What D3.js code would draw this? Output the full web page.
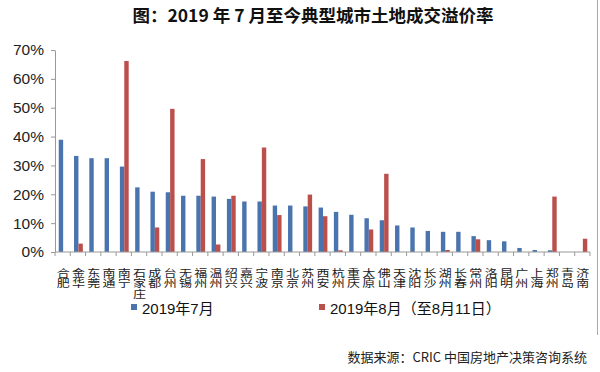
<!DOCTYPE html>
<html><head><meta charset="utf-8">
<script src="https://cdn.jsdelivr.net/npm/d3@7"></script>
<style>
html,body{margin:0;padding:0;background:#fff;}
svg{display:block;}
</style>
</head><body>
<svg id="chart" width="600" height="372"></svg>
<script>
const cities = ["合肥","金华","东莞","南通","南宁","石家庄","成都","台州","无锡","福州","温州","绍兴","嘉兴","宁波","南京","北京","苏州","西安","杭州","重庆","太原","佛山","天津","沈阳","长沙","湖州","长春","常州","洛阳","昆明","广州","上海","郑州","青岛","济南"];
const july = [38.9,33.3,32.5,32.5,29.6,22.4,20.9,20.7,19.5,19.5,19.2,18.4,17.5,17.5,16.1,16.1,15.8,15.4,13.9,12.9,11.7,11.0,9.2,8.5,7.3,7.0,7.0,5.5,4.1,3.7,1.4,0.7,0.6,0,0];
const aug = [0,2.9,0,0,66.2,0,8.5,49.6,0,32.2,2.6,19.5,0,36.2,12.8,0,19.9,12.4,0.6,0,7.8,27.1,0,0,0,0.7,0,4.4,0,0,0,0,19.2,0,4.6];
const yTicks = [0,10,20,30,40,50,60,70];
const seriesNames = ["2019年7月","2019年8月（至8月11日）"];
const colors = ["#4a74ae","#bb4f4c"];
const titleText = "图：2019 年 7 月至今典型城市土地成交溢价率";
const sourceText = "数据来源：CRIC 中国房地产决策咨询系统";

const svg = d3.select("#chart");
const latin = "'Liberation Sans', Arial, 'Noto Sans CJK SC', sans-serif";
const cjk = "'Noto Sans CJK SC', sans-serif";

const x = d3.scaleBand().domain(cities).range([55, 590]).paddingInner(0).paddingOuter(0);
const y = d3.scaleLinear().domain([0, 70]).range([252, 50]);
const bw = 4.4;
const sub = d3.scaleBand().domain([0,1]).range([0, bw*2]);

// title
svg.append("text").attr("x", 313).attr("y", 22).attr("text-anchor","middle")
  .style("font-family", cjk).style("font-weight", 700).style("font-size","17.5px").attr("fill","#111")
  .text(titleText);

// bars
const series = [july, aug];
series.forEach((vals, si) => {
  svg.append("g").selectAll("rect").data(cities).join("rect")
    .attr("x", d => x(d) + x.bandwidth()/2 - bw + 0.5 + sub(si))
    .attr("width", sub.bandwidth())
    .attr("y", (d,i) => y(vals[i]))
    .attr("height", (d,i) => y(0) - y(vals[i]))
    .attr("fill", colors[si]);
});

// y axis
const yAxis = d3.axisLeft(y).tickValues(yTicks).tickFormat(d => d + "%").tickSize(4).tickSizeOuter(0);
const gy = svg.append("g").attr("transform","translate(55,0)").call(yAxis);
gy.select(".domain").attr("stroke","#999");
gy.selectAll(".tick line").attr("stroke","#999");
gy.selectAll(".tick text").attr("x",-11).style("font-family", latin).style("font-size","15.5px").attr("fill","#222");

// x axis: ticks at band boundaries
const gx = svg.append("g");
gx.append("line").attr("x1",55).attr("x2",590).attr("y1",y(0)).attr("y2",y(0)).attr("stroke","#999");
gx.selectAll("line.t").data(cities.concat(["__end"])).join("line").attr("class","t")
  .attr("x1",(d,i)=> i < cities.length ? x(d) : 590).attr("x2",(d,i)=> i < cities.length ? x(d) : 590)
  .attr("y1",y(0)).attr("y2",y(0)+4).attr("stroke","#999");

// category labels (vertical stacked characters, slightly squashed)
const gl = svg.append("g");
cities.forEach(c => {
  Array.from(c).forEach((ch, k) => {
    gl.append("text")
      .attr("transform", `translate(${x(c) + x.bandwidth()/2 + 0.5},276.5) scale(1,0.8)`)
      .attr("x", 0).attr("y", k*13.25)
      .attr("text-anchor","middle")
      .style("font-family", cjk).style("font-size","13px").attr("fill","#222")
      .text(ch);
  });
});

// legend
const leg = [[131, 138], [319, 326]];
seriesNames.forEach((n, i) => {
  svg.append("rect").attr("x", leg[i][0]).attr("y", 304).attr("width",6).attr("height",6).attr("fill",colors[i]);
  svg.append("text").attr("x", leg[i][1]+4).attr("y", 314)
    .style("font-family", latin).style("font-size","15px").attr("fill","#111").text(n);
});

// source
svg.append("text").attr("x", 587).attr("y", 362).attr("text-anchor","end")
  .style("font-family", cjk).style("font-size","13px").attr("fill","#222").text(sourceText);

// right frame line
svg.append("line").attr("x1",597.5).attr("x2",597.5).attr("y1",0).attr("y2",335).attr("stroke","#aaa");
</script>
</body></html>
